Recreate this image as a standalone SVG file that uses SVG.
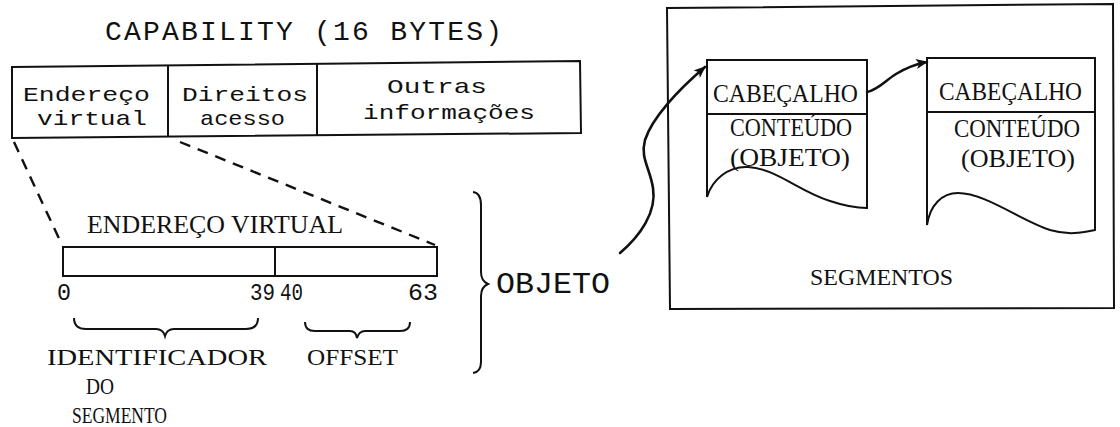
<svg xmlns="http://www.w3.org/2000/svg" width="1120" height="427" viewBox="0 0 1120 427">
<style>
.mono{font-family:"Liberation Mono","DejaVu Sans Mono",monospace;fill:#111}
.serif{font-family:"Liberation Serif","DejaVu Serif",serif;fill:#111}
.ln{fill:none;stroke:#111;stroke-width:2}
.thick{fill:none;stroke:#111;stroke-width:2.6;stroke-linecap:round}
.dash{fill:none;stroke:#111;stroke-width:2.4;stroke-dasharray:11 8}
.cell{font-size:21px}
</style>
<defs>
<marker id="ah" viewBox="0 0 12 10" refX="11" refY="5" markerWidth="12" markerHeight="10" markerUnits="userSpaceOnUse" orient="auto">
<path d="M0,0 L12,5 L0,10 L3,5 Z" fill="#111"/>
</marker>
</defs>
<rect width="1120" height="427" fill="#fff"/>

<g id="title">
<text class="mono" x="105" y="40" font-size="28" textLength="397" lengthAdjust="spacing">CAPABILITY (16 BYTES)</text>
</g>

<g id="capability">
<polygon class="ln" points="12,67 580,61 581,133 12,138"/>
<line class="ln" x1="168" y1="66" x2="168" y2="137"/>
<line class="ln" x1="317" y1="64" x2="317" y2="135"/>
<text class="mono cell" x="23" y="101" textLength="127" lengthAdjust="spacingAndGlyphs">Endereço</text>
<text class="mono cell" x="37" y="125" textLength="110" lengthAdjust="spacingAndGlyphs">virtual</text>
<text class="mono cell" x="182" y="101" textLength="126" lengthAdjust="spacingAndGlyphs">Direitos</text>
<text class="mono cell" x="200" y="125" textLength="85" lengthAdjust="spacingAndGlyphs">acesso</text>
<text class="mono cell" x="387" y="93" textLength="100" lengthAdjust="spacingAndGlyphs">Outras</text>
<text class="mono cell" x="363" y="119" textLength="172" lengthAdjust="spacingAndGlyphs">informações</text>
</g>

<g id="endereco-virtual">
<text class="serif" x="87" y="233" font-size="26" textLength="256" lengthAdjust="spacingAndGlyphs">ENDEREÇO VIRTUAL</text>
<rect class="ln" x="63" y="247" width="374" height="29"/>
<line class="ln" x1="275" y1="247" x2="275" y2="276"/>
<text class="mono" x="57" y="300" font-size="24" textLength="14" lengthAdjust="spacingAndGlyphs">0</text>
<text class="mono" x="250" y="300" font-size="24" textLength="25" lengthAdjust="spacingAndGlyphs">39</text>
<text class="mono" x="280" y="300" font-size="24" textLength="23" lengthAdjust="spacingAndGlyphs">40</text>
<text class="mono" x="408" y="300" font-size="24" textLength="30" lengthAdjust="spacingAndGlyphs">63</text>
</g>

<g id="identificador">
<path class="ln" d="M74,318 Q74,329 86,329 L156,329 Q163,329 165,336 Q167,329 174,329 L246,329 Q258,329 258,318"/>
<text class="serif" x="47" y="365" font-size="24" textLength="220" lengthAdjust="spacingAndGlyphs">IDENTIFICADOR</text>
<text class="serif" x="86" y="394" font-size="24" textLength="28" lengthAdjust="spacingAndGlyphs">DO</text>
<text class="serif" x="72" y="423" font-size="24" textLength="95" lengthAdjust="spacingAndGlyphs">SEGMENTO</text>
</g>

<g id="offset">
<path class="ln" d="M305,322 Q305,331 315,331 L350,331 Q356,331 357,338 Q359,331 365,331 L400,331 Q410,331 410,322"/>
<text class="serif" x="307" y="365" font-size="24" textLength="91" lengthAdjust="spacingAndGlyphs">OFFSET</text>
</g>

<g id="objeto">
<path class="ln" d="M473,192 Q481,193 481,205 L481,272 Q481,281 488,284 Q481,287 481,296 L481,362 Q481,372 473,373"/>
<text class="mono" x="496" y="293" font-size="30" textLength="114" lengthAdjust="spacingAndGlyphs">OBJETO</text>
</g>

<g id="segmentos">
<polygon class="ln" points="667,8 1113,4 1114,308 670,309"/>
<text class="serif" x="810" y="285" font-size="24" textLength="143" lengthAdjust="spacingAndGlyphs">SEGMENTOS</text>
</g>

<g id="segmento-1">
<path class="ln" d="M707,197 L707,60 L867,60 L867,208 C858,208 845,206 830,201 C800,192 775,168 748,167 C728,166 712,180 707,197 Z"/>
<line class="ln" x1="707" y1="114" x2="867" y2="114"/>
<text class="serif" x="713" y="102" font-size="25" textLength="145" lengthAdjust="spacingAndGlyphs">CABEÇALHO</text>
<text class="serif" x="730" y="136" font-size="25" textLength="122" lengthAdjust="spacingAndGlyphs">CONTEÚDO</text>
<text class="serif" x="730" y="166" font-size="25" textLength="120" lengthAdjust="spacingAndGlyphs">(OBJETO)</text>
</g>

<g id="segmento-2">
<path class="ln" d="M927,225 L927,58 L1095,58 L1095,230 C1085,232 1070,236 1050,230 C1020,220 985,193 958,193 C942,193 930,205 927,225 Z"/>
<line class="ln" x1="927" y1="112" x2="1095" y2="112"/>
<text class="serif" x="939" y="100" font-size="25" textLength="143" lengthAdjust="spacingAndGlyphs">CABEÇALHO</text>
<text class="serif" x="954" y="137" font-size="25" textLength="126" lengthAdjust="spacingAndGlyphs">CONTEÚDO</text>
<text class="serif" x="961" y="167" font-size="25" textLength="114" lengthAdjust="spacingAndGlyphs">(OBJETO)</text>
</g>

<g id="connectors">
<line class="dash" x1="14" y1="142" x2="62" y2="245"/>
<line class="dash" x1="180" y1="142" x2="435" y2="245"/>
<path class="thick" marker-end="url(#ah)" d="M620,253 C640,236 657,212 653,188 C650,168 640,158 645,140 C652,118 678,90 705,67"/>
<path class="thick" marker-end="url(#ah)" d="M867,92 C878,90 886,80 896,74 C906,68 916,64 927,62"/>
</g>
</svg>
